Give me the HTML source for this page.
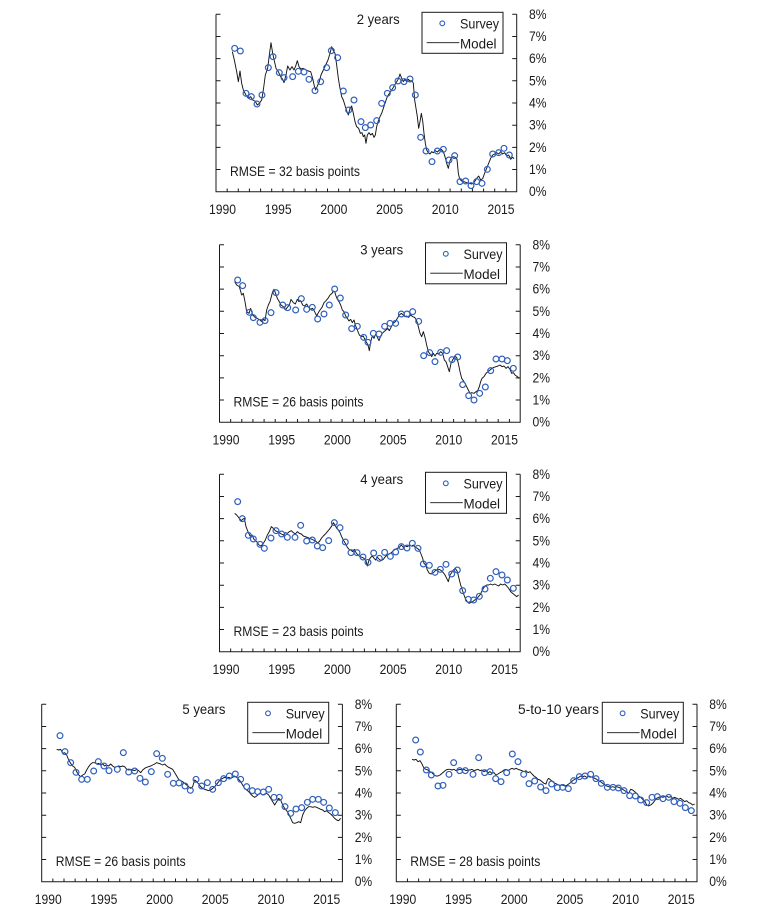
<!DOCTYPE html>
<html><head><meta charset="utf-8"><style>
html,body{margin:0;padding:0;background:#fff;}
svg{display:block;}
text{font-family:"Liberation Sans",Arial,sans-serif;font-size:14px;fill:#1a1a1a;}
.ax{fill:none;stroke:#1a1a1a;stroke-width:1;}
.mdl{fill:none;stroke:#111;stroke-width:2.8;stroke-linejoin:round;}
.sv circle{fill:none;stroke:#2f5fbd;stroke-width:3.6;}
</style></head><body>
<svg width="758" height="920" viewBox="0 0 758 920" xmlns="http://www.w3.org/2000/svg">

<!-- ============ DATA PANEL 1 ============ -->
<g transform="translate(200,0) scale(0.333333)">
<path class="mdl" d="M97 155 L103 180 L110 215 L115 245 L120 213 L125 250 L130 270 L138 285 L145 295 L152 290 L158 300 L165 303 L172 315 L178 310 L185 300 L190 270 L196 225 L203 205 L208 165 L213 128 L218 160 L222 178 L228 205 L235 215 L242 230 L248 238 L252 248 L258 225 L263 198 L270 210 L276 200 L282 210 L287 198 L292 182 L297 200 L303 207 L310 205 L318 210 L325 213 L332 215 L338 235 L343 258 L347 270 L352 258 L358 245 L363 225 L370 210 L377 195 L384 180 L390 160 L395 140 L400 152 L405 160 L410 195 L415 235 L420 265 L425 290 L430 300 L436 320 L441 335 L445 345 L450 325 L455 318 L460 340 L465 365 L470 380 L476 385 L481 400 L486 398 L490 410 L494 405 L498 430 L502 405 L507 398 L512 405 L517 400 L522 412 L526 405 L530 380 L535 362 L540 350 L545 340 L550 325 L555 310 L560 295 L565 285 L572 275 L580 262 L587 250 L595 237 L600 222 L605 235 L610 245 L615 238 L620 245 L625 238 L630 243 L636 242 L640 250 L644 300 L648 325 L652 350 L656 385 L660 365 L664 340 L668 362 L672 400 L676 430 L680 450 L685 458 L690 462 L695 455 L700 458 L706 452 L712 456 L718 450 L724 448 L730 455 L735 470 L740 490 L745 505 L750 482 L755 472 L760 470 L766 472 L771 478 L775 520 L779 537 L785 543 L792 545 L800 548 L808 550 L815 552 L822 548 L830 535 L836 528 L842 540 L848 536 L853 522 L860 505 L866 490 L872 475 L878 465 L884 462 L890 458 L896 462 L902 455 L908 462 L914 458 L920 468 L926 465 L932 478 L938 472 L942 476"/>
<g class="sv">
<circle cx="104" cy="145" r="8.7"/><circle cx="121" cy="153" r="8.7"/><circle cx="138" cy="280" r="8.7"/><circle cx="154" cy="290" r="8.7"/><circle cx="171" cy="312" r="8.7"/><circle cx="186" cy="285" r="8.7"/><circle cx="205" cy="203" r="8.7"/><circle cx="219" cy="170" r="8.7"/><circle cx="238" cy="218" r="8.7"/><circle cx="252" cy="233" r="8.7"/><circle cx="278" cy="230" r="8.7"/><circle cx="295" cy="214" r="8.7"/><circle cx="312" cy="216" r="8.7"/><circle cx="327" cy="238" r="8.7"/><circle cx="345" cy="272" r="8.7"/><circle cx="362" cy="245" r="8.7"/><circle cx="380" cy="203" r="8.7"/><circle cx="394" cy="152" r="8.7"/><circle cx="413" cy="173" r="8.7"/><circle cx="430" cy="273" r="8.7"/><circle cx="446" cy="330" r="8.7"/><circle cx="462" cy="300" r="8.7"/><circle cx="483" cy="365" r="8.7"/><circle cx="496" cy="383" r="8.7"/><circle cx="512" cy="375" r="8.7"/><circle cx="530" cy="362" r="8.7"/><circle cx="545" cy="310" r="8.7"/><circle cx="562" cy="280" r="8.7"/><circle cx="578" cy="263" r="8.7"/><circle cx="594" cy="243" r="8.7"/><circle cx="612" cy="245" r="8.7"/><circle cx="630" cy="237" r="8.7"/><circle cx="646" cy="285" r="8.7"/><circle cx="662" cy="412" r="8.7"/><circle cx="678" cy="453" r="8.7"/><circle cx="696" cy="485" r="8.7"/><circle cx="712" cy="453" r="8.7"/><circle cx="730" cy="448" r="8.7"/><circle cx="747" cy="480" r="8.7"/><circle cx="764" cy="467" r="8.7"/><circle cx="780" cy="545" r="8.7"/><circle cx="797" cy="543" r="8.7"/><circle cx="813" cy="557" r="8.7"/><circle cx="830" cy="545" r="8.7"/><circle cx="846" cy="550" r="8.7"/><circle cx="862" cy="508" r="8.7"/><circle cx="878" cy="462" r="8.7"/><circle cx="896" cy="458" r="8.7"/><circle cx="912" cy="445" r="8.7"/><circle cx="928" cy="465" r="8.7"/>
</g></g>

<!-- ============ DATA PANEL 2 ============ -->
<g transform="translate(200,230) scale(0.333333)">
<path class="mdl" d="M104 155 L110 165 L118 170 L125 195 L130 190 L135 215 L140 245 L147 250 L152 235 L158 255 L165 262 L172 265 L180 270 L185 275 L190 268 L195 272 L200 240 L205 225 L210 215 L218 185 L222 178 L226 188 L232 205 L238 215 L243 225 L250 230 L256 240 L262 232 L268 225 L273 208 L280 218 L286 222 L292 208 L297 215 L302 212 L308 225 L314 228 L320 222 L326 232 L332 238 L338 235 L344 245 L350 258 L355 248 L360 240 L366 232 L372 218 L378 212 L384 205 L390 195 L396 190 L400 183 L404 185 L408 198 L412 208 L417 215 L422 225 L427 240 L432 245 L437 258 L442 265 L447 273 L452 268 L457 278 L462 270 L466 285 L472 300 L478 315 L484 320 L490 318 L496 332 L500 338 L504 345 L508 362 L512 335 L517 318 L522 325 L527 312 L532 322 L537 332 L542 318 L547 310 L552 305 L558 300 L563 295 L568 302 L574 290 L580 280 L586 275 L592 265 L598 255 L604 250 L610 255 L615 260 L620 258 L626 262 L632 255 L638 260 L644 262 L650 272 L655 290 L660 310 L665 320 L670 305 L675 322 L680 345 L685 365 L690 372 L695 380 L700 370 L705 378 L710 370 L716 372 L722 365 L728 370 L733 390 L738 395 L743 410 L748 425 L753 400 L758 390 L764 378 L770 382 L775 400 L780 425 L785 445 L790 452 L795 460 L800 470 L805 480 L810 490 L815 488 L822 490 L828 485 L833 482 L838 470 L842 455 L846 445 L852 440 L858 430 L864 425 L870 420 L876 415 L882 412 L888 410 L894 408 L900 405 L906 410 L912 408 L918 415 L924 410 L930 418 L935 430 L940 428 L945 435 L952 440 L958 445"/>
<g class="sv">
<circle cx="113" cy="150" r="8.7"/><circle cx="128" cy="167" r="8.7"/><circle cx="148" cy="247" r="8.7"/><circle cx="160" cy="263" r="8.7"/><circle cx="180" cy="277" r="8.7"/><circle cx="195" cy="272" r="8.7"/><circle cx="213" cy="248" r="8.7"/><circle cx="228" cy="188" r="8.7"/><circle cx="248" cy="225" r="8.7"/><circle cx="263" cy="233" r="8.7"/><circle cx="287" cy="240" r="8.7"/><circle cx="304" cy="206" r="8.7"/><circle cx="320" cy="238" r="8.7"/><circle cx="337" cy="232" r="8.7"/><circle cx="353" cy="267" r="8.7"/><circle cx="372" cy="252" r="8.7"/><circle cx="388" cy="225" r="8.7"/><circle cx="404" cy="177" r="8.7"/><circle cx="421" cy="204" r="8.7"/><circle cx="437" cy="255" r="8.7"/><circle cx="455" cy="296" r="8.7"/><circle cx="472" cy="289" r="8.7"/><circle cx="491" cy="322" r="8.7"/><circle cx="504" cy="337" r="8.7"/><circle cx="520" cy="310" r="8.7"/><circle cx="537" cy="312" r="8.7"/><circle cx="554" cy="289" r="8.7"/><circle cx="570" cy="280" r="8.7"/><circle cx="587" cy="280" r="8.7"/><circle cx="604" cy="252" r="8.7"/><circle cx="621" cy="252" r="8.7"/><circle cx="638" cy="245" r="8.7"/><circle cx="656" cy="274" r="8.7"/><circle cx="671" cy="377" r="8.7"/><circle cx="689" cy="368" r="8.7"/><circle cx="705" cy="395" r="8.7"/><circle cx="722" cy="367" r="8.7"/><circle cx="740" cy="362" r="8.7"/><circle cx="756" cy="389" r="8.7"/><circle cx="773" cy="381" r="8.7"/><circle cx="788" cy="464" r="8.7"/><circle cx="806" cy="497" r="8.7"/><circle cx="822" cy="510" r="8.7"/><circle cx="839" cy="490" r="8.7"/><circle cx="856" cy="471" r="8.7"/><circle cx="872" cy="422" r="8.7"/><circle cx="888" cy="387" r="8.7"/><circle cx="906" cy="387" r="8.7"/><circle cx="922" cy="392" r="8.7"/><circle cx="940" cy="415" r="8.7"/>
</g></g>

<!-- ============ DATA PANEL 3 ============ -->
<g transform="translate(200,460) scale(0.333333)">
<path class="mdl" d="M104 160 L110 165 L118 175 L124 182 L128 178 L133 175 L138 200 L144 215 L150 228 L156 225 L162 238 L170 245 L177 255 L183 258 L190 250 L196 240 L202 225 L208 215 L214 200 L220 205 L226 212 L232 215 L238 218 L244 222 L250 225 L256 218 L262 220 L268 215 L274 212 L280 218 L286 222 L292 215 L298 220 L304 222 L310 228 L316 230 L322 232 L328 235 L334 237 L340 240 L346 242 L352 248 L358 245 L364 235 L370 228 L376 222 L382 215 L388 208 L394 200 L400 188 L405 195 L410 205 L415 210 L420 218 L425 230 L430 240 L436 250 L442 262 L447 268 L452 270 L458 275 L463 268 L468 278 L474 285 L480 290 L486 292 L492 295 L498 303 L502 318 L507 300 L512 292 L517 288 L522 295 L527 300 L532 292 L538 298 L544 302 L550 298 L556 290 L562 285 L568 282 L574 278 L580 272 L586 268 L592 265 L598 262 L604 255 L610 262 L616 258 L622 260 L628 255 L634 258 L640 255 L646 262 L652 265 L658 270 L663 282 L668 295 L672 310 L677 315 L682 330 L688 340 L694 342 L700 338 L706 332 L712 330 L718 328 L724 332 L730 338 L735 345 L740 355 L745 365 L750 345 L755 338 L760 330 L766 325 L772 335 L777 355 L782 375 L787 390 L792 405 L797 418 L802 425 L807 430 L812 428 L818 425 L824 420 L830 418 L835 410 L840 405 L845 395 L850 385 L855 378 L860 375 L866 375 L872 372 L878 375 L884 372 L890 375 L896 378 L902 372 L908 375 L914 372 L920 378 L926 385 L932 395 L938 400 L944 405 L950 410 L956 405"/>
<g class="sv">
<circle cx="113" cy="125" r="8.7"/><circle cx="127" cy="176" r="8.7"/><circle cx="145" cy="226" r="8.7"/><circle cx="160" cy="237" r="8.7"/><circle cx="180" cy="253" r="8.7"/><circle cx="193" cy="265" r="8.7"/><circle cx="213" cy="234" r="8.7"/><circle cx="228" cy="212" r="8.7"/><circle cx="245" cy="222" r="8.7"/><circle cx="262" cy="232" r="8.7"/><circle cx="285" cy="232" r="8.7"/><circle cx="302" cy="196" r="8.7"/><circle cx="320" cy="243" r="8.7"/><circle cx="337" cy="240" r="8.7"/><circle cx="352" cy="258" r="8.7"/><circle cx="368" cy="263" r="8.7"/><circle cx="386" cy="242" r="8.7"/><circle cx="403" cy="188" r="8.7"/><circle cx="420" cy="203" r="8.7"/><circle cx="436" cy="246" r="8.7"/><circle cx="453" cy="278" r="8.7"/><circle cx="471" cy="278" r="8.7"/><circle cx="489" cy="291" r="8.7"/><circle cx="504" cy="307" r="8.7"/><circle cx="521" cy="279" r="8.7"/><circle cx="538" cy="295" r="8.7"/><circle cx="554" cy="277" r="8.7"/><circle cx="571" cy="289" r="8.7"/><circle cx="587" cy="276" r="8.7"/><circle cx="604" cy="260" r="8.7"/><circle cx="621" cy="264" r="8.7"/><circle cx="637" cy="250" r="8.7"/><circle cx="654" cy="265" r="8.7"/><circle cx="670" cy="312" r="8.7"/><circle cx="688" cy="316" r="8.7"/><circle cx="705" cy="337" r="8.7"/><circle cx="721" cy="328" r="8.7"/><circle cx="738" cy="313" r="8.7"/><circle cx="755" cy="342" r="8.7"/><circle cx="772" cy="330" r="8.7"/><circle cx="788" cy="392" r="8.7"/><circle cx="805" cy="418" r="8.7"/><circle cx="821" cy="420" r="8.7"/><circle cx="838" cy="409" r="8.7"/><circle cx="855" cy="387" r="8.7"/><circle cx="871" cy="355" r="8.7"/><circle cx="888" cy="335" r="8.7"/><circle cx="906" cy="345" r="8.7"/><circle cx="922" cy="360" r="8.7"/><circle cx="940" cy="385" r="8.7"/>
</g></g>

<!-- ============ DATA PANEL 4 ============ -->
<g transform="translate(0,690) scale(0.333333)">
<path class="mdl" d="M170 178 L176 180 L182 178 L188 190 L194 188 L200 195 L206 210 L212 220 L218 228 L224 232 L230 245 L236 255 L242 260 L248 255 L254 252 L260 240 L266 230 L272 222 L278 218 L284 218 L290 222 L296 220 L302 225 L308 222 L314 228 L320 225 L326 228 L332 222 L338 228 L344 232 L350 230 L356 228 L362 230 L368 228 L374 230 L380 238 L386 240 L392 238 L398 240 L404 242 L410 238 L416 242 L422 248 L428 240 L434 235 L440 232 L446 230 L452 228 L458 225 L464 222 L470 218 L476 220 L482 222 L488 225 L494 222 L500 228 L506 232 L512 235 L518 238 L524 248 L530 258 L536 268 L542 272 L548 275 L554 280 L560 285 L566 290 L572 295 L578 290 L584 270 L590 275 L596 282 L602 290 L608 295 L614 298 L620 300 L626 302 L632 300 L638 295 L644 290 L650 283 L656 275 L662 268 L668 265 L674 262 L680 265 L686 262 L692 265 L698 262 L704 258 L710 262 L716 268 L722 275 L728 285 L734 295 L740 300 L746 305 L752 312 L758 318 L764 322 L770 318 L776 312 L782 310 L788 315 L794 312 L800 310 L806 315 L812 325 L818 335 L824 345 L830 335 L836 325 L842 330 L848 345 L854 355 L860 362 L866 372 L872 385 L878 398 L884 400 L890 398 L896 395 L902 398 L908 375 L914 362 L920 355 L926 350 L932 350 L938 352 L944 350 L950 352 L956 355 L962 358 L968 360 L974 365 L980 362 L986 368 L992 372 L998 378 L1004 385 L1010 390 L1016 392 L1022 385"/>
<g class="sv">
<circle cx="180" cy="137" r="8.7"/><circle cx="195" cy="185" r="8.7"/><circle cx="212" cy="218" r="8.7"/><circle cx="228" cy="247" r="8.7"/><circle cx="245" cy="268" r="8.7"/><circle cx="262" cy="268" r="8.7"/><circle cx="281" cy="243" r="8.7"/><circle cx="295" cy="215" r="8.7"/><circle cx="312" cy="228" r="8.7"/><circle cx="327" cy="242" r="8.7"/><circle cx="352" cy="238" r="8.7"/><circle cx="370" cy="188" r="8.7"/><circle cx="386" cy="246" r="8.7"/><circle cx="404" cy="243" r="8.7"/><circle cx="420" cy="265" r="8.7"/><circle cx="436" cy="276" r="8.7"/><circle cx="454" cy="245" r="8.7"/><circle cx="470" cy="191" r="8.7"/><circle cx="487" cy="205" r="8.7"/><circle cx="503" cy="253" r="8.7"/><circle cx="520" cy="280" r="8.7"/><circle cx="537" cy="279" r="8.7"/><circle cx="555" cy="288" r="8.7"/><circle cx="571" cy="301" r="8.7"/><circle cx="588" cy="268" r="8.7"/><circle cx="605" cy="288" r="8.7"/><circle cx="622" cy="278" r="8.7"/><circle cx="638" cy="298" r="8.7"/><circle cx="655" cy="278" r="8.7"/><circle cx="671" cy="266" r="8.7"/><circle cx="688" cy="258" r="8.7"/><circle cx="706" cy="252" r="8.7"/><circle cx="722" cy="268" r="8.7"/><circle cx="740" cy="290" r="8.7"/><circle cx="757" cy="302" r="8.7"/><circle cx="773" cy="305" r="8.7"/><circle cx="790" cy="306" r="8.7"/><circle cx="806" cy="298" r="8.7"/><circle cx="822" cy="322" r="8.7"/><circle cx="838" cy="322" r="8.7"/><circle cx="855" cy="350" r="8.7"/><circle cx="872" cy="370" r="8.7"/><circle cx="888" cy="357" r="8.7"/><circle cx="905" cy="353" r="8.7"/><circle cx="922" cy="337" r="8.7"/><circle cx="938" cy="328" r="8.7"/><circle cx="955" cy="328" r="8.7"/><circle cx="971" cy="337" r="8.7"/><circle cx="988" cy="354" r="8.7"/><circle cx="1006" cy="368" r="8.7"/>
</g></g>

<!-- ============ DATA PANEL 5 ============ -->
<g transform="translate(378,690) scale(0.333333)">
<path class="mdl" d="M102 208 L108 210 L114 208 L120 215 L126 212 L132 222 L138 235 L144 238 L150 240 L156 245 L162 248 L168 255 L174 258 L180 258 L186 255 L192 250 L198 245 L204 240 L210 238 L216 238 L222 240 L228 238 L234 242 L240 240 L246 238 L252 240 L258 238 L264 242 L270 240 L276 240 L282 238 L288 242 L294 240 L300 238 L306 242 L312 240 L318 245 L324 242 L330 248 L336 245 L342 250 L348 248 L354 255 L360 252 L366 248 L372 245 L378 240 L384 238 L390 242 L396 238 L402 235 L408 238 L414 235 L420 238 L426 240 L432 242 L438 245 L444 242 L450 248 L456 245 L462 252 L468 258 L474 262 L480 268 L486 270 L492 275 L498 280 L504 282 L508 270 L512 265 L518 270 L524 275 L530 280 L536 282 L542 285 L548 286 L554 285 L560 288 L566 286 L572 282 L578 278 L584 272 L590 268 L596 265 L602 262 L608 258 L614 260 L620 258 L626 262 L632 258 L638 260 L644 262 L650 265 L656 268 L662 272 L668 275 L674 280 L680 284 L686 288 L692 290 L698 292 L704 290 L710 292 L716 290 L722 292 L728 295 L734 298 L740 302 L746 305 L752 310 L758 298 L764 300 L770 305 L776 310 L782 318 L788 322 L794 328 L800 332 L806 345 L812 348 L818 345 L824 340 L830 332 L836 325 L842 322 L848 320 L854 322 L860 320 L866 318 L872 322 L878 320 L884 325 L890 322 L896 325 L902 328 L908 325 L914 330 L920 335 L926 332 L932 338 L938 340 L944 345 L950 342"/>
<g class="sv">
<circle cx="113" cy="150" r="8.7"/><circle cx="127" cy="186" r="8.7"/><circle cx="145" cy="240" r="8.7"/><circle cx="160" cy="255" r="8.7"/><circle cx="180" cy="288" r="8.7"/><circle cx="195" cy="286" r="8.7"/><circle cx="213" cy="253" r="8.7"/><circle cx="227" cy="218" r="8.7"/><circle cx="245" cy="242" r="8.7"/><circle cx="262" cy="242" r="8.7"/><circle cx="285" cy="253" r="8.7"/><circle cx="302" cy="203" r="8.7"/><circle cx="320" cy="248" r="8.7"/><circle cx="336" cy="245" r="8.7"/><circle cx="353" cy="266" r="8.7"/><circle cx="369" cy="275" r="8.7"/><circle cx="386" cy="248" r="8.7"/><circle cx="403" cy="192" r="8.7"/><circle cx="420" cy="215" r="8.7"/><circle cx="437" cy="253" r="8.7"/><circle cx="453" cy="281" r="8.7"/><circle cx="470" cy="273" r="8.7"/><circle cx="488" cy="291" r="8.7"/><circle cx="504" cy="302" r="8.7"/><circle cx="521" cy="282" r="8.7"/><circle cx="538" cy="293" r="8.7"/><circle cx="554" cy="292" r="8.7"/><circle cx="571" cy="296" r="8.7"/><circle cx="587" cy="272" r="8.7"/><circle cx="604" cy="260" r="8.7"/><circle cx="621" cy="258" r="8.7"/><circle cx="638" cy="253" r="8.7"/><circle cx="654" cy="266" r="8.7"/><circle cx="670" cy="280" r="8.7"/><circle cx="688" cy="292" r="8.7"/><circle cx="705" cy="292" r="8.7"/><circle cx="721" cy="294" r="8.7"/><circle cx="738" cy="302" r="8.7"/><circle cx="755" cy="317" r="8.7"/><circle cx="772" cy="318" r="8.7"/><circle cx="788" cy="330" r="8.7"/><circle cx="806" cy="338" r="8.7"/><circle cx="822" cy="322" r="8.7"/><circle cx="838" cy="320" r="8.7"/><circle cx="855" cy="326" r="8.7"/><circle cx="872" cy="322" r="8.7"/><circle cx="888" cy="335" r="8.7"/><circle cx="906" cy="340" r="8.7"/><circle cx="922" cy="353" r="8.7"/><circle cx="940" cy="362" r="8.7"/>
</g></g>

<!-- ============ AXES / TEXT PANEL 1 ============ -->
<g transform="translate(0,0)">
<path class="ax" d="M216 14.3V191.7H516.7V14.3"/>
<path class="ax" d="M216 169.5h4.5M216 147.35h4.5M216 125.2h4.5M216 103h4.5M216 80.8h4.5M216 58.65h4.5M216 36.5h4.5M216 14.3h4.5M516.7 169.5h-4.5M516.7 147.35h-4.5M516.7 125.2h-4.5M516.7 103h-4.5M516.7 80.8h-4.5M516.7 58.65h-4.5M516.7 36.5h-4.5M516.7 14.3h-4.5M227.15 191.7v-3.2M238.3 191.7v-3.2M249.4 191.7v-3.2M260.6 191.7v-3.2M271.7 191.7v-3.2M282.9 191.7v-3.2M294 191.7v-3.2M305.2 191.7v-3.2M316.3 191.7v-3.2M327.5 191.7v-3.2M338.6 191.7v-3.2M349.8 191.7v-3.2M360.9 191.7v-3.2M372.1 191.7v-3.2M383.2 191.7v-3.2M394.4 191.7v-3.2M405.5 191.7v-3.2M416.7 191.7v-3.2M427.8 191.7v-3.2M439 191.7v-3.2M450.1 191.7v-3.2M461.3 191.7v-3.2M472.4 191.7v-3.2M483.6 191.7v-3.2M494.7 191.7v-3.2M505.9 191.7v-3.2"/>
<text x="529" y="18.8" textLength="17.5" lengthAdjust="spacingAndGlyphs">8%</text>
<text x="529" y="41" textLength="17.5" lengthAdjust="spacingAndGlyphs">7%</text>
<text x="529" y="63.15" textLength="17.5" lengthAdjust="spacingAndGlyphs">6%</text>
<text x="529" y="85.3" textLength="17.5" lengthAdjust="spacingAndGlyphs">5%</text>
<text x="529" y="107.5" textLength="17.5" lengthAdjust="spacingAndGlyphs">4%</text>
<text x="529" y="129.7" textLength="17.5" lengthAdjust="spacingAndGlyphs">3%</text>
<text x="529" y="151.85" textLength="17.5" lengthAdjust="spacingAndGlyphs">2%</text>
<text x="529" y="174" textLength="17.5" lengthAdjust="spacingAndGlyphs">1%</text>
<text x="529" y="196.2" textLength="17.5" lengthAdjust="spacingAndGlyphs">0%</text>
<text x="222.5" y="213.9" text-anchor="middle" textLength="27" lengthAdjust="spacingAndGlyphs">1990</text>
<text x="278.2" y="213.9" text-anchor="middle" textLength="27" lengthAdjust="spacingAndGlyphs">1995</text>
<text x="333.9" y="213.9" text-anchor="middle" textLength="27" lengthAdjust="spacingAndGlyphs">2000</text>
<text x="389.6" y="213.9" text-anchor="middle" textLength="27" lengthAdjust="spacingAndGlyphs">2005</text>
<text x="445.3" y="213.9" text-anchor="middle" textLength="27" lengthAdjust="spacingAndGlyphs">2010</text>
<text x="501" y="213.9" text-anchor="middle" textLength="27" lengthAdjust="spacingAndGlyphs">2015</text>
<text x="356.7" y="24.2" textLength="43" lengthAdjust="spacingAndGlyphs">2 years</text>
<rect x="422" y="12.3" width="81" height="41" fill="#fff" stroke="#1a1a1a" stroke-width="1"/>
<circle cx="442.3" cy="23.3" r="2.4" fill="none" stroke="#2f5fbd" stroke-width="1.1"/>
<text x="460" y="28.5" textLength="39" lengthAdjust="spacingAndGlyphs">Survey</text>
<path d="M426.7 42.7H459.3" stroke="#111" stroke-width="0.9"/>
<text x="460" y="48.5" textLength="36.5" lengthAdjust="spacingAndGlyphs">Model</text>
<text x="230" y="175.9" textLength="130" lengthAdjust="spacingAndGlyphs">RMSE = 32 basis points</text>
</g>

<!-- ============ AXES / TEXT PANEL 2 ============ -->
<g transform="translate(3.5,230.5)">
<path class="ax" d="M216 14.3V191.7H516.7V14.3"/>
<path class="ax" d="M216 169.5h4.5M216 147.35h4.5M216 125.2h4.5M216 103h4.5M216 80.8h4.5M216 58.65h4.5M216 36.5h4.5M216 14.3h4.5M516.7 169.5h-4.5M516.7 147.35h-4.5M516.7 125.2h-4.5M516.7 103h-4.5M516.7 80.8h-4.5M516.7 58.65h-4.5M516.7 36.5h-4.5M516.7 14.3h-4.5M227.15 191.7v-3.2M238.3 191.7v-3.2M249.4 191.7v-3.2M260.6 191.7v-3.2M271.7 191.7v-3.2M282.9 191.7v-3.2M294 191.7v-3.2M305.2 191.7v-3.2M316.3 191.7v-3.2M327.5 191.7v-3.2M338.6 191.7v-3.2M349.8 191.7v-3.2M360.9 191.7v-3.2M372.1 191.7v-3.2M383.2 191.7v-3.2M394.4 191.7v-3.2M405.5 191.7v-3.2M416.7 191.7v-3.2M427.8 191.7v-3.2M439 191.7v-3.2M450.1 191.7v-3.2M461.3 191.7v-3.2M472.4 191.7v-3.2M483.6 191.7v-3.2M494.7 191.7v-3.2M505.9 191.7v-3.2"/>
<text x="529" y="18.8" textLength="17.5" lengthAdjust="spacingAndGlyphs">8%</text>
<text x="529" y="41" textLength="17.5" lengthAdjust="spacingAndGlyphs">7%</text>
<text x="529" y="63.15" textLength="17.5" lengthAdjust="spacingAndGlyphs">6%</text>
<text x="529" y="85.3" textLength="17.5" lengthAdjust="spacingAndGlyphs">5%</text>
<text x="529" y="107.5" textLength="17.5" lengthAdjust="spacingAndGlyphs">4%</text>
<text x="529" y="129.7" textLength="17.5" lengthAdjust="spacingAndGlyphs">3%</text>
<text x="529" y="151.85" textLength="17.5" lengthAdjust="spacingAndGlyphs">2%</text>
<text x="529" y="174" textLength="17.5" lengthAdjust="spacingAndGlyphs">1%</text>
<text x="529" y="196.2" textLength="17.5" lengthAdjust="spacingAndGlyphs">0%</text>
<text x="222.5" y="213.9" text-anchor="middle" textLength="27" lengthAdjust="spacingAndGlyphs">1990</text>
<text x="278.2" y="213.9" text-anchor="middle" textLength="27" lengthAdjust="spacingAndGlyphs">1995</text>
<text x="333.9" y="213.9" text-anchor="middle" textLength="27" lengthAdjust="spacingAndGlyphs">2000</text>
<text x="389.6" y="213.9" text-anchor="middle" textLength="27" lengthAdjust="spacingAndGlyphs">2005</text>
<text x="445.3" y="213.9" text-anchor="middle" textLength="27" lengthAdjust="spacingAndGlyphs">2010</text>
<text x="501" y="213.9" text-anchor="middle" textLength="27" lengthAdjust="spacingAndGlyphs">2015</text>
<text x="356.7" y="24.2" textLength="43" lengthAdjust="spacingAndGlyphs">3 years</text>
<rect x="422" y="12.3" width="81" height="41" fill="#fff" stroke="#1a1a1a" stroke-width="1"/>
<circle cx="442.3" cy="23.3" r="2.4" fill="none" stroke="#2f5fbd" stroke-width="1.1"/>
<text x="460" y="28.5" textLength="39" lengthAdjust="spacingAndGlyphs">Survey</text>
<path d="M426.7 42.7H459.3" stroke="#111" stroke-width="0.9"/>
<text x="460" y="48.5" textLength="36.5" lengthAdjust="spacingAndGlyphs">Model</text>
<text x="230" y="175.9" textLength="130" lengthAdjust="spacingAndGlyphs">RMSE = 26 basis points</text>
</g>

<!-- ============ AXES / TEXT PANEL 3 ============ -->
<g transform="translate(3.5,460)">
<path class="ax" d="M216 14.3V191.7H516.7V14.3"/>
<path class="ax" d="M216 169.5h4.5M216 147.35h4.5M216 125.2h4.5M216 103h4.5M216 80.8h4.5M216 58.65h4.5M216 36.5h4.5M216 14.3h4.5M516.7 169.5h-4.5M516.7 147.35h-4.5M516.7 125.2h-4.5M516.7 103h-4.5M516.7 80.8h-4.5M516.7 58.65h-4.5M516.7 36.5h-4.5M516.7 14.3h-4.5M227.15 191.7v-3.2M238.3 191.7v-3.2M249.4 191.7v-3.2M260.6 191.7v-3.2M271.7 191.7v-3.2M282.9 191.7v-3.2M294 191.7v-3.2M305.2 191.7v-3.2M316.3 191.7v-3.2M327.5 191.7v-3.2M338.6 191.7v-3.2M349.8 191.7v-3.2M360.9 191.7v-3.2M372.1 191.7v-3.2M383.2 191.7v-3.2M394.4 191.7v-3.2M405.5 191.7v-3.2M416.7 191.7v-3.2M427.8 191.7v-3.2M439 191.7v-3.2M450.1 191.7v-3.2M461.3 191.7v-3.2M472.4 191.7v-3.2M483.6 191.7v-3.2M494.7 191.7v-3.2M505.9 191.7v-3.2"/>
<text x="529" y="18.8" textLength="17.5" lengthAdjust="spacingAndGlyphs">8%</text>
<text x="529" y="41" textLength="17.5" lengthAdjust="spacingAndGlyphs">7%</text>
<text x="529" y="63.15" textLength="17.5" lengthAdjust="spacingAndGlyphs">6%</text>
<text x="529" y="85.3" textLength="17.5" lengthAdjust="spacingAndGlyphs">5%</text>
<text x="529" y="107.5" textLength="17.5" lengthAdjust="spacingAndGlyphs">4%</text>
<text x="529" y="129.7" textLength="17.5" lengthAdjust="spacingAndGlyphs">3%</text>
<text x="529" y="151.85" textLength="17.5" lengthAdjust="spacingAndGlyphs">2%</text>
<text x="529" y="174" textLength="17.5" lengthAdjust="spacingAndGlyphs">1%</text>
<text x="529" y="196.2" textLength="17.5" lengthAdjust="spacingAndGlyphs">0%</text>
<text x="222.5" y="213.9" text-anchor="middle" textLength="27" lengthAdjust="spacingAndGlyphs">1990</text>
<text x="278.2" y="213.9" text-anchor="middle" textLength="27" lengthAdjust="spacingAndGlyphs">1995</text>
<text x="333.9" y="213.9" text-anchor="middle" textLength="27" lengthAdjust="spacingAndGlyphs">2000</text>
<text x="389.6" y="213.9" text-anchor="middle" textLength="27" lengthAdjust="spacingAndGlyphs">2005</text>
<text x="445.3" y="213.9" text-anchor="middle" textLength="27" lengthAdjust="spacingAndGlyphs">2010</text>
<text x="501" y="213.9" text-anchor="middle" textLength="27" lengthAdjust="spacingAndGlyphs">2015</text>
<text x="356.7" y="24.2" textLength="43" lengthAdjust="spacingAndGlyphs">4 years</text>
<rect x="422" y="12.3" width="81" height="41" fill="#fff" stroke="#1a1a1a" stroke-width="1"/>
<circle cx="442.3" cy="23.3" r="2.4" fill="none" stroke="#2f5fbd" stroke-width="1.1"/>
<text x="460" y="28.5" textLength="39" lengthAdjust="spacingAndGlyphs">Survey</text>
<path d="M426.7 42.7H459.3" stroke="#111" stroke-width="0.9"/>
<text x="460" y="48.5" textLength="36.5" lengthAdjust="spacingAndGlyphs">Model</text>
<text x="230" y="175.9" textLength="130" lengthAdjust="spacingAndGlyphs">RMSE = 23 basis points</text>
</g>

<!-- ============ AXES / TEXT PANEL 4 ============ -->
<g transform="translate(-174.3,690)">
<path class="ax" d="M216 14.3V191.7H516.7V14.3"/>
<path class="ax" d="M216 169.5h4.5M216 147.35h4.5M216 125.2h4.5M216 103h4.5M216 80.8h4.5M216 58.65h4.5M216 36.5h4.5M216 14.3h4.5M516.7 169.5h-4.5M516.7 147.35h-4.5M516.7 125.2h-4.5M516.7 103h-4.5M516.7 80.8h-4.5M516.7 58.65h-4.5M516.7 36.5h-4.5M516.7 14.3h-4.5M227.15 191.7v-3.2M238.3 191.7v-3.2M249.4 191.7v-3.2M260.6 191.7v-3.2M271.7 191.7v-3.2M282.9 191.7v-3.2M294 191.7v-3.2M305.2 191.7v-3.2M316.3 191.7v-3.2M327.5 191.7v-3.2M338.6 191.7v-3.2M349.8 191.7v-3.2M360.9 191.7v-3.2M372.1 191.7v-3.2M383.2 191.7v-3.2M394.4 191.7v-3.2M405.5 191.7v-3.2M416.7 191.7v-3.2M427.8 191.7v-3.2M439 191.7v-3.2M450.1 191.7v-3.2M461.3 191.7v-3.2M472.4 191.7v-3.2M483.6 191.7v-3.2M494.7 191.7v-3.2M505.9 191.7v-3.2"/>
<text x="529" y="18.8" textLength="17.5" lengthAdjust="spacingAndGlyphs">8%</text>
<text x="529" y="41" textLength="17.5" lengthAdjust="spacingAndGlyphs">7%</text>
<text x="529" y="63.15" textLength="17.5" lengthAdjust="spacingAndGlyphs">6%</text>
<text x="529" y="85.3" textLength="17.5" lengthAdjust="spacingAndGlyphs">5%</text>
<text x="529" y="107.5" textLength="17.5" lengthAdjust="spacingAndGlyphs">4%</text>
<text x="529" y="129.7" textLength="17.5" lengthAdjust="spacingAndGlyphs">3%</text>
<text x="529" y="151.85" textLength="17.5" lengthAdjust="spacingAndGlyphs">2%</text>
<text x="529" y="174" textLength="17.5" lengthAdjust="spacingAndGlyphs">1%</text>
<text x="529" y="196.2" textLength="17.5" lengthAdjust="spacingAndGlyphs">0%</text>
<text x="222.5" y="213.9" text-anchor="middle" textLength="27" lengthAdjust="spacingAndGlyphs">1990</text>
<text x="278.2" y="213.9" text-anchor="middle" textLength="27" lengthAdjust="spacingAndGlyphs">1995</text>
<text x="333.9" y="213.9" text-anchor="middle" textLength="27" lengthAdjust="spacingAndGlyphs">2000</text>
<text x="389.6" y="213.9" text-anchor="middle" textLength="27" lengthAdjust="spacingAndGlyphs">2005</text>
<text x="445.3" y="213.9" text-anchor="middle" textLength="27" lengthAdjust="spacingAndGlyphs">2010</text>
<text x="501" y="213.9" text-anchor="middle" textLength="27" lengthAdjust="spacingAndGlyphs">2015</text>
<text x="356.7" y="24.2" textLength="43" lengthAdjust="spacingAndGlyphs">5 years</text>
<rect x="422" y="12.3" width="81" height="41" fill="#fff" stroke="#1a1a1a" stroke-width="1"/>
<circle cx="442.3" cy="23.3" r="2.4" fill="none" stroke="#2f5fbd" stroke-width="1.1"/>
<text x="460" y="28.5" textLength="39" lengthAdjust="spacingAndGlyphs">Survey</text>
<path d="M426.7 42.7H459.3" stroke="#111" stroke-width="0.9"/>
<text x="460" y="48.5" textLength="36.5" lengthAdjust="spacingAndGlyphs">Model</text>
<text x="230" y="175.9" textLength="130" lengthAdjust="spacingAndGlyphs">RMSE = 26 basis points</text>
</g>

<!-- ============ AXES / TEXT PANEL 5 ============ -->
<g transform="translate(180.3,690)">
<path class="ax" d="M216 14.3V191.7H516.7V14.3"/>
<path class="ax" d="M216 169.5h4.5M216 147.35h4.5M216 125.2h4.5M216 103h4.5M216 80.8h4.5M216 58.65h4.5M216 36.5h4.5M216 14.3h4.5M516.7 169.5h-4.5M516.7 147.35h-4.5M516.7 125.2h-4.5M516.7 103h-4.5M516.7 80.8h-4.5M516.7 58.65h-4.5M516.7 36.5h-4.5M516.7 14.3h-4.5M227.15 191.7v-3.2M238.3 191.7v-3.2M249.4 191.7v-3.2M260.6 191.7v-3.2M271.7 191.7v-3.2M282.9 191.7v-3.2M294 191.7v-3.2M305.2 191.7v-3.2M316.3 191.7v-3.2M327.5 191.7v-3.2M338.6 191.7v-3.2M349.8 191.7v-3.2M360.9 191.7v-3.2M372.1 191.7v-3.2M383.2 191.7v-3.2M394.4 191.7v-3.2M405.5 191.7v-3.2M416.7 191.7v-3.2M427.8 191.7v-3.2M439 191.7v-3.2M450.1 191.7v-3.2M461.3 191.7v-3.2M472.4 191.7v-3.2M483.6 191.7v-3.2M494.7 191.7v-3.2M505.9 191.7v-3.2"/>
<text x="529" y="18.8" textLength="17.5" lengthAdjust="spacingAndGlyphs">8%</text>
<text x="529" y="41" textLength="17.5" lengthAdjust="spacingAndGlyphs">7%</text>
<text x="529" y="63.15" textLength="17.5" lengthAdjust="spacingAndGlyphs">6%</text>
<text x="529" y="85.3" textLength="17.5" lengthAdjust="spacingAndGlyphs">5%</text>
<text x="529" y="107.5" textLength="17.5" lengthAdjust="spacingAndGlyphs">4%</text>
<text x="529" y="129.7" textLength="17.5" lengthAdjust="spacingAndGlyphs">3%</text>
<text x="529" y="151.85" textLength="17.5" lengthAdjust="spacingAndGlyphs">2%</text>
<text x="529" y="174" textLength="17.5" lengthAdjust="spacingAndGlyphs">1%</text>
<text x="529" y="196.2" textLength="17.5" lengthAdjust="spacingAndGlyphs">0%</text>
<text x="222.5" y="213.9" text-anchor="middle" textLength="27" lengthAdjust="spacingAndGlyphs">1990</text>
<text x="278.2" y="213.9" text-anchor="middle" textLength="27" lengthAdjust="spacingAndGlyphs">1995</text>
<text x="333.9" y="213.9" text-anchor="middle" textLength="27" lengthAdjust="spacingAndGlyphs">2000</text>
<text x="389.6" y="213.9" text-anchor="middle" textLength="27" lengthAdjust="spacingAndGlyphs">2005</text>
<text x="445.3" y="213.9" text-anchor="middle" textLength="27" lengthAdjust="spacingAndGlyphs">2010</text>
<text x="501" y="213.9" text-anchor="middle" textLength="27" lengthAdjust="spacingAndGlyphs">2015</text>
<text x="337.7" y="24.2" textLength="81" lengthAdjust="spacingAndGlyphs">5-to-10 years</text>
<rect x="422" y="12.3" width="81" height="41" fill="#fff" stroke="#1a1a1a" stroke-width="1"/>
<circle cx="442.3" cy="23.3" r="2.4" fill="none" stroke="#2f5fbd" stroke-width="1.1"/>
<text x="460" y="28.5" textLength="39" lengthAdjust="spacingAndGlyphs">Survey</text>
<path d="M426.7 42.7H459.3" stroke="#111" stroke-width="0.9"/>
<text x="460" y="48.5" textLength="36.5" lengthAdjust="spacingAndGlyphs">Model</text>
<text x="230" y="175.9" textLength="130" lengthAdjust="spacingAndGlyphs">RMSE = 28 basis points</text>
</g>

</svg>
</body></html>
